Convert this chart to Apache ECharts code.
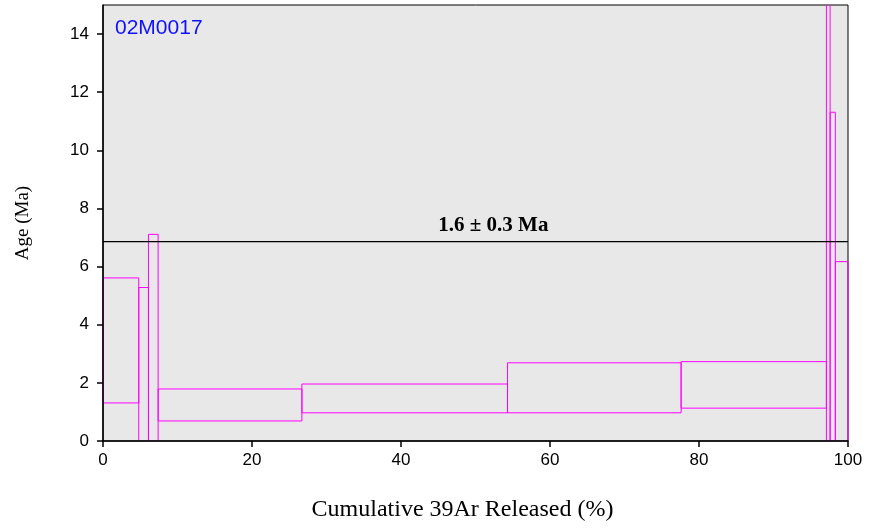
<!DOCTYPE html>
<html>
<head>
<meta charset="utf-8">
<script src="https://cdn.jsdelivr.net/npm/echarts@6/dist/echarts.min.js"></script>
<style>
  html, body { margin: 0; padding: 0; background: #fff; }
  #chart { width: 869px; height: 529px; }
</style>
</head>
<body>
<div id="chart"></div>
<script>
// step boundaries in cumulative % of 39Ar released
const stepStart = [0, 4.8, 6.1, 7.4, 26.7, 54.3, 77.6, 97.1, 97.6, 98.3];
const stepEnd   = [4.8, 6.1, 7.4, 26.7, 54.3, 77.6, 97.1, 97.6, 98.3, 100];
// age error envelope (Ma), low and high
const ageLow  = [1.31, -1, -1, 0.69, 0.97, 0.97, 1.13, -1, -1, -1];
const ageHigh = [5.61, 5.28, 7.11, 1.79, 1.96, 2.69, 2.73, 20, 11.31, 6.17];

const plateauAge = 6.86;
const plateauLabel = '1.6 \u00b1 0.3 Ma';
const plateauLabelX = 52.4;
const sampleName = '02M0017';

const yTicks = [0, 2, 4, 6, 8, 10, 12, 14];
const xTicks = [0, 20, 40, 60, 80, 100];

const steps = stepStart.map((s, i) => [s, stepEnd[i], ageLow[i], ageHigh[i]]);

const chart = echarts.init(document.getElementById('chart'));

// draw each step as an open box; edges falling outside the plot are left out
function renderStep(params, api) {
  const cs = params.coordSys;
  const pTop = api.coord([api.value(0), api.value(3)]);
  const pBot = api.coord([api.value(1), api.value(2)]);
  const x0 = pTop[0], x1 = pBot[0];
  const yMin = cs.y, yMax = cs.y + cs.height;
  const topIn = pTop[1] >= yMin;
  const botIn = pBot[1] <= yMax;
  const yt = Math.max(pTop[1], yMin);
  const yb = Math.min(pBot[1], yMax);
  const style = { stroke: '#ff00ff', lineWidth: 1, fill: 'none' };
  const children = [
    { type: 'line', shape: { x1: x0, y1: yt, x2: x0, y2: yb }, style },
    { type: 'line', shape: { x1: x1, y1: yt, x2: x1, y2: yb }, style }
  ];
  if (topIn) children.push({ type: 'line', shape: { x1: x0, y1: yt, x2: x1, y2: yt }, style });
  if (botIn) children.push({ type: 'line', shape: { x1: x0, y1: yb, x2: x1, y2: yb }, style });
  return { type: 'group', children };
}

const option = {
  animation: false,
  backgroundColor: '#ffffff',
  grid: {
    left: 103, right: 21, top: 5, bottom: 88,
    show: true,
    backgroundColor: '#e8e8e8',
    borderColor: '#000',
    borderWidth: 1
  },
  xAxis: {
    type: 'value',
    min: 0, max: 100, interval: 20,
    z: 10,
    name: 'Cumulative 39Ar Released (%)',
    nameLocation: 'middle',
    nameGap: 57,
    nameTextStyle: { fontFamily: 'Liberation Serif', fontSize: 24, color: '#000', padding: [0, 26, 0, 0] },
    axisLine: { lineStyle: { color: '#000', width: 1.5 } },
    axisTick: { show: true, length: 6, lineStyle: { color: '#000', width: 1.5 }, customValues: xTicks },
    axisLabel: { fontFamily: 'Liberation Sans', fontSize: 17, color: '#000', margin: 11, customValues: xTicks },
    splitLine: { show: false }
  },
  yAxis: {
    type: 'value',
    min: 0, max: 15,
    z: 10,
    name: 'Age (Ma)',
    nameLocation: 'middle',
    nameGap: 70,
    nameTextStyle: { fontFamily: 'Liberation Serif', fontSize: 19, color: '#000' },
    axisLine: { show: true, lineStyle: { color: '#000', width: 1.5 } },
    axisTick: { show: true, length: 6, lineStyle: { color: '#000', width: 1.5 }, customValues: yTicks },
    axisLabel: { fontFamily: 'Liberation Sans', fontSize: 17, color: '#000', margin: 14, customValues: yTicks },
    splitLine: { show: false }
  },
  graphic: [{
    type: 'text',
    left: 115, top: 18,
    style: { text: sampleName, fill: '#1010ff', font: '21px "Liberation Sans"' }
  }],
  series: [
    {
      type: 'custom',
      renderItem: renderStep,
      data: steps,
      encode: { x: [0, 1], y: [2, 3] },
      silent: true,
      z: 3
    },
    {
      type: 'line',
      data: [[0, plateauAge], [100, plateauAge]],
      symbol: 'none',
      lineStyle: { color: '#000', width: 1.3 },
      silent: true,
      z: 4,
      markPoint: {
        symbol: 'circle',
        symbolSize: 0,
        data: [{ coord: [plateauLabelX, plateauAge] }],
        label: {
          show: true,
          position: 'top',
          distance: 6,
          formatter: plateauLabel,
          fontFamily: 'Liberation Serif',
          fontWeight: 'bold',
          fontSize: 21,
          color: '#000'
        }
      }
    }
  ]
};

chart.setOption(option);
</script>
</body>
</html>
